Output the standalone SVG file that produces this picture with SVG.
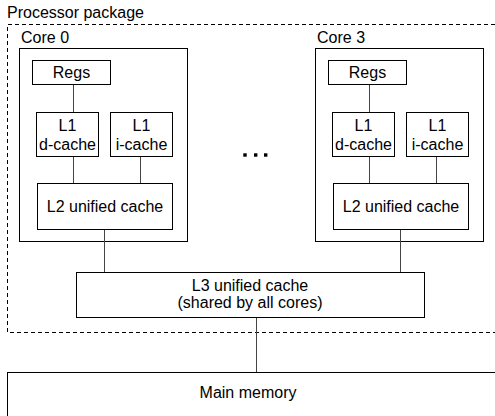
<svg xmlns="http://www.w3.org/2000/svg" width="495" height="416" viewBox="0 0 495 416">
<style>
.box{fill:#fff;stroke:#000;stroke-width:1}
.frame{fill:none;stroke:#000;stroke-width:1}
.t{font-family:"Liberation Sans",Arial,sans-serif;font-size:16px;fill:#000}
.c{text-anchor:middle}
.ln{stroke:#444;stroke-width:1;fill:none}
.dash{stroke:#000;stroke-width:1;fill:none;stroke-dasharray:4 3}
</style>
<rect width="495" height="416" fill="#fff"/>
<g id="package">
<path class="dash" d="M600 24.5H7.5V332.5H600"/>
<text class="t" x="7" y="18">Processor package</text>
</g>
<g id="core0">
<rect class="frame" x="19.5" y="48.5" width="168" height="193"/>
<text class="t" x="21" y="43">Core 0</text>
</g>
<g id="core3">
<rect class="frame" x="315.5" y="48.5" width="168" height="193"/>
<text class="t" x="317" y="43">Core 3</text>
</g>
<g id="connectors">
<line class="ln" x1="73.5" y1="84" x2="73.5" y2="112"/>
<line class="ln" x1="73.5" y1="156" x2="73.5" y2="183"/>
<line class="ln" x1="140.5" y1="156" x2="140.5" y2="183"/>
<line class="ln" x1="104.5" y1="229" x2="104.5" y2="272"/>
<line class="ln" x1="369.5" y1="84" x2="369.5" y2="112"/>
<line class="ln" x1="369.5" y1="156" x2="369.5" y2="183"/>
<line class="ln" x1="436.5" y1="156" x2="436.5" y2="183"/>
<line class="ln" x1="400.5" y1="229" x2="400.5" y2="272"/>
<line class="ln" x1="256.5" y1="317" x2="256.5" y2="372"/>
</g>
<g id="core0-regs"><rect class="box" x="32.5" y="60.5" width="78" height="24"/><text class="t c" x="71.5" y="78">Regs</text></g>
<g id="core0-l1d"><rect class="box" x="36.5" y="112.5" width="62" height="44"/><text class="t c" x="67.5" y="131">L1</text><text class="t c" x="67.5" y="150">d-cache</text></g>
<g id="core0-l1i"><rect class="box" x="110.5" y="112.5" width="62" height="44"/><text class="t c" x="141.5" y="131">L1</text><text class="t c" x="141.5" y="150">i-cache</text></g>
<g id="core0-l2"><rect class="box" x="37.5" y="183.5" width="135" height="46"/><text class="t c" x="105" y="212">L2 unified cache</text></g>
<g id="dots" fill="#000"><rect x="243.3" y="153.3" width="3.4" height="3.4"/><rect x="254" y="153.3" width="3.4" height="3.4"/><rect x="264" y="153.3" width="3.4" height="3.4"/></g>
<g id="core3-regs"><rect class="box" x="328.5" y="60.5" width="78" height="24"/><text class="t c" x="367.5" y="78">Regs</text></g>
<g id="core3-l1d"><rect class="box" x="332.5" y="112.5" width="62" height="44"/><text class="t c" x="363.5" y="131">L1</text><text class="t c" x="363.5" y="150">d-cache</text></g>
<g id="core3-l1i"><rect class="box" x="406.5" y="112.5" width="62" height="44"/><text class="t c" x="437.5" y="131">L1</text><text class="t c" x="437.5" y="150">i-cache</text></g>
<g id="core3-l2"><rect class="box" x="333.5" y="183.5" width="135" height="46"/><text class="t c" x="401" y="212">L2 unified cache</text></g>
<g id="l3"><rect class="box" x="76.5" y="272.5" width="348" height="45"/><text class="t c" x="250" y="291">L3 unified cache</text><text class="t c" x="250" y="308">(shared by all cores)</text></g>
<g id="main-memory"><rect class="box" x="7.5" y="372.5" width="600" height="100"/><text class="t c" x="248" y="398">Main memory</text></g>
</svg>
